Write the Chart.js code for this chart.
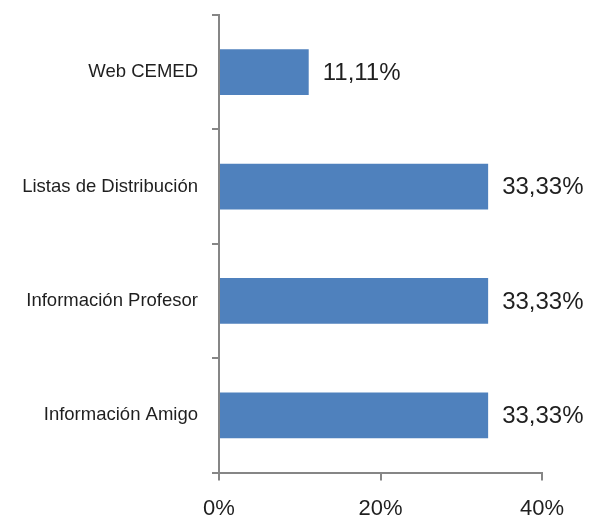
<!DOCTYPE html>
<html>
<head>
<meta charset="utf-8">
<script src="https://cdn.jsdelivr.net/npm/chart.js@4"></script>
<style>
    html, body { margin: 0; padding: 0; background: #fff; }
    #wrap { width: 601px; height: 522px; }
</style>
</head>
<body>
<div id="wrap"><canvas id="chart" width="601" height="522"></canvas></div>
<script>
var categories = ['Web CEMED', 'Listas de Distribución', 'Información Profesor', 'Información Amigo'];
var values = [11.11, 33.33, 33.33, 33.33];
var xTicks = [0, 20, 40];

// draws the "33,33%" labels right of each bar
var valueLabels = {
    id: 'valueLabels',
    afterDatasetsDraw: function(chart) {
        var ctx = chart.ctx;
        var meta = chart.getDatasetMeta(0);
        ctx.save();
        ctx.font = '24px "Liberation Sans", Arial, sans-serif';
        ctx.fillStyle = '#1f1f1f';
        ctx.textBaseline = 'middle';
        ctx.textAlign = 'left';
        meta.data.forEach(function(bar, i) {
            var txt = values[i].toFixed(2).replace('.', ',') + '%';
            ctx.fillText(txt, bar.x + 14, bar.y + 1);
        });
        ctx.restore();
    }
};

var ctx = document.getElementById('chart').getContext('2d');
var myChart = new Chart(ctx, {
    type: 'bar',
    data: {
        labels: categories,
        datasets: [{
            data: values,
            backgroundColor: '#4F81BD',
            borderWidth: 0,
            categoryPercentage: 0.4,
            barPercentage: 1
        }]
    },
    options: {
        indexAxis: 'y',
        responsive: false,
        animation: false,
        layout: { padding: { top: 15, right: 59, left: 0, bottom: 0 } },
        plugins: {
            legend: { display: false },
            tooltip: { enabled: false }
        },
        scales: {
            x: {
                min: 0,
                max: 40,
                afterBuildTicks: function(axis) {
                    axis.ticks = xTicks.map(function(v) { return { value: v }; });
                },
                afterFit: function(axis) {
                    axis.height = 49.5;
                    axis.paddingLeft = 0;
                    axis.paddingRight = 0;
                },
                border: { color: '#868686', width: 2 },
                grid: {
                    drawOnChartArea: false,
                    drawTicks: true,
                    tickLength: 8,
                    color: '#868686',
                    lineWidth: 2
                },
                ticks: {
                    padding: 15,
                    maxRotation: 0,
                    color: '#1f1f1f',
                    font: { family: '"Liberation Sans", Arial, sans-serif', size: 22 },
                    callback: function(v) { return v + '%'; }
                }
            },
            y: {
                afterFit: function(axis) {
                    axis.width = 219;
                    axis.paddingTop = 0;
                    axis.paddingBottom = 0;
                },
                border: { color: '#868686', width: 2 },
                grid: {
                    offset: true,
                    drawOnChartArea: false,
                    tickLength: 7,
                    color: '#868686',
                    lineWidth: 2
                },
                ticks: {
                    padding: 14,
                    color: '#1f1f1f',
                    font: { family: '"Liberation Sans", Arial, sans-serif', size: 18.5 }
                }
            }
        }
    },
    plugins: [valueLabels]
});
</script>
</body>
</html>
